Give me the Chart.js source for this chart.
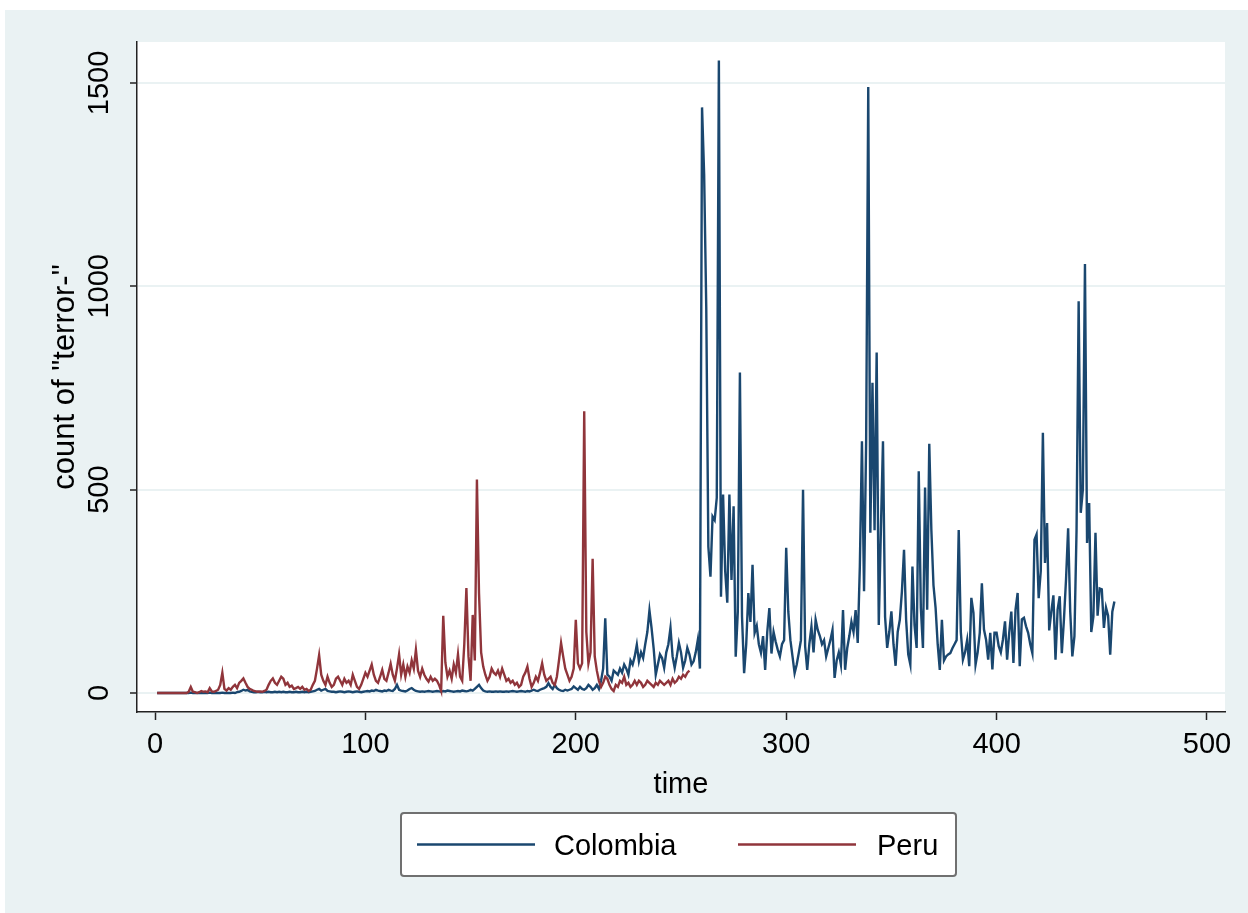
<!DOCTYPE html>
<html>
<head>
<meta charset="utf-8">
<title>count of "terror-" by time</title>
<script src="https://cdn.jsdelivr.net/npm/chart.js@4.4.1/dist/chart.umd.min.js"></script>
<style>
    html, body { margin: 0; padding: 0; background: #ffffff; }
    #wrap { position: absolute; left: 0; top: 0; width: 1248px; height: 913px; }
</style>
</head>
<body>
<div id="wrap"><canvas id="myChart" width="1248" height="913"></canvas></div>
<script>
const seriesNames = ['Colombia', 'Peru'];
const xTicks = [0, 100, 200, 300, 400, 500];
const yTicks = [0, 500, 1000, 1500];

// monthly counts, first value is time = 1
const colombia = [
    0, 0, 0, 0, 0, 0, 0, 0, 0, 0,
    0, 0, 0, 0, 0, 0, 1, 0, 0, 0,
    0, 0, 0, 0, 0, 1, 0, 0, 0, 0,
    0, 1, 0, 0, 0, 0, 1, 0, 2, 3,
    5, 8, 6, 8, 4, 3, 2, 2, 3, 2,
    2, 3, 2, 3, 2, 2, 3, 2, 3, 2,
    3, 2, 2, 3, 2, 2, 3, 2, 2, 3,
    2, 3, 2, 3, 4, 5, 8, 10, 6, 8,
    10, 5, 4, 3, 3, 2, 3, 4, 3, 2,
    3, 4, 3, 2, 3, 4, 3, 2, 3, 4,
    5, 4, 6, 5, 8, 6, 5, 4, 6, 5,
    8, 6, 5, 10, 20, 8, 6, 5, 4, 6,
    10, 12, 8, 5, 4, 3, 4, 3, 4, 5,
    4, 3, 4, 5, 4, 3, 5, 4, 6, 5,
    4, 3, 4, 5, 4, 6, 5, 4, 5, 8,
    6, 10, 15, 20, 12, 6, 4, 3, 4, 3,
    3, 4, 3, 4, 3, 3, 4, 3, 4, 5,
    4, 3, 4, 5, 4, 3, 5, 4, 6, 8,
    6, 5, 8, 10, 12, 15, 24, 15, 10, 20,
    12, 8, 6, 5, 8, 6, 8, 10, 16, 12,
    8, 15, 10, 8, 12, 20, 15, 8, 12, 20,
    10, 30, 60, 184, 45, 40, 30, 55, 50, 45,
    60, 50, 70, 60, 45, 80, 70, 90, 119, 78,
    100, 86, 120, 150, 203, 160, 110, 45, 70, 95,
    86, 62, 100, 120, 160, 90, 62, 90, 123, 100,
    62, 80, 111, 95, 70, 78, 100, 131, 60, 1440,
    1275, 950, 360, 286, 434, 425, 480, 1555, 237, 488,
    300, 222, 488, 278, 459, 89, 200, 788, 188, 49,
    120, 246, 175, 315, 148, 165, 120, 99, 140, 57,
    150, 209, 97, 150, 126, 106, 90, 120, 130, 357,
    200, 130, 90, 49, 70, 99, 130, 500, 115, 57,
    120, 163, 100, 180, 155, 140, 120, 130, 90, 110,
    130, 155, 37, 80, 100, 70, 204, 57, 110, 140,
    175, 150, 204, 123, 311, 619, 250, 620, 1490, 394,
    763, 400, 837, 167, 400, 619, 187, 111, 150, 201,
    120, 67, 150, 180, 250, 352, 180, 95, 70, 311,
    167, 111, 545, 209, 111, 505, 205, 613, 400, 265,
    210, 120, 57, 180, 80, 90, 95, 98, 110, 120,
    130, 401, 150, 82, 100, 130, 66, 234, 197, 70,
    100, 148, 270, 156, 131, 82, 148, 58, 148, 148,
    115, 100, 131, 176, 82, 148, 200, 74, 205, 246,
    66, 181, 185, 164, 148, 120, 98, 377, 390, 233,
    300, 640, 320, 418, 154, 200, 240, 82, 205, 238,
    98, 180, 279, 405, 200, 90, 140, 400, 963, 443,
    500, 1055, 369, 467, 150, 188, 394, 190, 257, 255,
    160, 210, 190, 94, 200, 225
];

const peru = [
    0, 0, 0, 0, 0, 0, 0, 0, 0, 0,
    0, 0, 0, 0, 0, 3, 15, 3, 2, 0,
    2, 5, 3, 4, 2, 12, 4, 3, 5, 8,
    20, 50, 10, 6, 12, 8, 15, 20, 12, 25,
    30, 36, 25, 15, 10, 8, 5, 4, 3, 4,
    3, 5, 8, 20, 30, 36, 25, 20, 30, 40,
    35, 20, 25, 15, 18, 10, 12, 15, 10, 15,
    8, 10, 5, 8, 20, 30, 60, 93, 45, 30,
    20, 40, 25, 15, 20, 35, 40, 30, 20, 35,
    25, 30, 20, 45, 30, 15, 10, 20, 35, 50,
    40, 55, 70, 45, 30, 25, 40, 57, 35, 30,
    50, 72, 45, 30, 60, 95, 45, 70, 40, 65,
    50, 80, 60, 106, 55, 40, 60, 45, 35, 28,
    40, 30, 35, 30, 20, 5, 190, 75, 40, 55,
    35, 70, 50, 95, 40, 30, 120, 258, 90, 30,
    192, 80, 525, 245, 100, 65, 45, 30, 40, 60,
    50, 45, 55, 40, 60, 45, 30, 35, 25, 30,
    20, 25, 15, 20, 40, 50, 65, 35, 15, 25,
    40, 30, 50, 73, 45, 30, 35, 40, 25, 20,
    40, 80, 123, 90, 60, 45, 30, 40, 60, 180,
    73, 60, 73, 693, 150, 73, 100, 330, 90, 55,
    30, 15, 25, 40, 35, 20, 10, 5, 20, 15,
    30, 25, 40, 20, 25, 15, 20, 30, 20, 30,
    25, 15, 20, 30, 25, 20, 15, 25, 20, 30,
    25, 20, 25, 30, 20, 35, 25, 30, 40, 35,
    45, 40, 50, 55
];

const toPoints = values => values.map((v, i) => ({ x: i + 1, y: v }));

const FONT = '"Liberation Sans", Arial, Helvetica, sans-serif';
const FONT_SIZE = 29;

// Stata s2color look: light blue-grey graph region, white plot region
const stataBackground = {
    id: 'stataBackground',
    beforeDraw(chart) {
        const { ctx, chartArea } = chart;
        ctx.save();
        ctx.fillStyle = '#eaf2f3';
        ctx.fillRect(5, 10, chart.width - 5, chart.height - 10);
        ctx.fillStyle = '#ffffff';
        ctx.fillRect(chartArea.left, chartArea.top, chartArea.right - chartArea.left, chartArea.bottom - chartArea.top);
        ctx.restore();
    }
};

// y tick labels are rotated like in Stata
const rotatedYLabels = {
    id: 'rotatedYLabels',
    afterDraw(chart) {
        const { ctx } = chart;
        const y = chart.scales.y;
        ctx.save();
        ctx.font = FONT_SIZE + 'px ' + FONT;
        ctx.fillStyle = '#000000';
        ctx.textAlign = 'center';
        ctx.textBaseline = 'middle';
        y.ticks.forEach(t => {
            ctx.save();
            ctx.translate(y.right - 37, y.getPixelForValue(t.value));
            ctx.rotate(-Math.PI / 2);
            ctx.fillText(String(t.value), 0, 0);
            ctx.restore();
        });
        ctx.restore();
    }
};

// boxed legend under the plot
const boxLegend = {
    id: 'boxLegend',
    afterDraw(chart) {
        const { ctx } = chart;
        const left = 401, top = 813, w = 555, h = 63;
        const slots = [{ line: 417, text: 554 }, { line: 738, text: 877 }];
        ctx.save();
        ctx.fillStyle = '#ffffff';
        ctx.strokeStyle = '#707070';
        ctx.lineWidth = 2;
        ctx.beginPath();
        ctx.roundRect(left, top, w, h, 3);
        ctx.fill();
        ctx.stroke();
        const midY = top + h / 2;
        ctx.font = FONT_SIZE + 'px ' + FONT;
        ctx.textAlign = 'left';
        ctx.textBaseline = 'middle';
        seriesNames.forEach((name, i) => {
            const ds = chart.data.datasets.find(d => d.label === name);
            ctx.strokeStyle = ds.borderColor;
            ctx.lineWidth = 2.3;
            ctx.beginPath();
            ctx.moveTo(slots[i].line, midY);
            ctx.lineTo(slots[i].line + 118, midY);
            ctx.stroke();
            ctx.fillStyle = '#000000';
            ctx.fillText(name, slots[i].text, midY + 2);
        });
        ctx.restore();
    }
};

const ctx = document.getElementById('myChart').getContext('2d');
const myChart = new Chart(ctx, {
    type: 'line',
    data: {
        datasets: [{
            label: seriesNames[0],
            data: toPoints(colombia),
            borderColor: '#1a476f',
            backgroundColor: '#1a476f',
            borderWidth: 2.4,
            pointRadius: 0,
            tension: 0,
            order: 1
        }, {
            label: seriesNames[1],
            data: toPoints(peru),
            borderColor: '#90353b',
            backgroundColor: '#90353b',
            borderWidth: 2.4,
            pointRadius: 0,
            tension: 0,
            order: 0
        }]
    },
    options: {
        responsive: false,
        animation: false,
        layout: { padding: { left: 0, right: 23, top: 42, bottom: 0 } },
        plugins: {
            legend: { display: false },
            tooltip: { enabled: false }
        },
        scales: {
            x: {
                type: 'linear',
                min: -8.56,
                max: 508.56,
                afterBuildTicks: scale => { scale.ticks = xTicks.map(v => ({ value: v })); },
                afterFit: scale => { scale.height = 201; },
                grid: { drawOnChartArea: false, tickLength: 8, tickColor: '#222222', tickWidth: 1.5 },
                border: { display: true, color: '#222222', width: 1.5 },
                ticks: { color: '#000000', padding: 8, maxRotation: 0, font: { family: FONT, size: FONT_SIZE } },
                title: {
                    display: true,
                    text: 'time',
                    color: '#000000',
                    font: { family: FONT, size: FONT_SIZE },
                    padding: { top: 0, bottom: 111 }
                }
            },
            y: {
                type: 'linear',
                min: -46.7,
                max: 1600.8,
                afterBuildTicks: scale => { scale.ticks = yTicks.map(v => ({ value: v })); },
                afterFit: scale => { scale.width = 137; },
                grid: { color: '#eaf2f3', lineWidth: 2, tickLength: 7, tickColor: '#222222', tickWidth: 1.5 },
                border: { display: true, color: '#222222', width: 1.5 },
                ticks: { display: false },
                title: {
                    display: true,
                    text: 'count of "terror-"',
                    color: '#000000',
                    font: { family: FONT, size: 31 },
                    padding: { top: 47, bottom: 0 }
                }
            }
        }
    },
    plugins: [stataBackground, rotatedYLabels, boxLegend]
});
</script>
</body>
</html>
